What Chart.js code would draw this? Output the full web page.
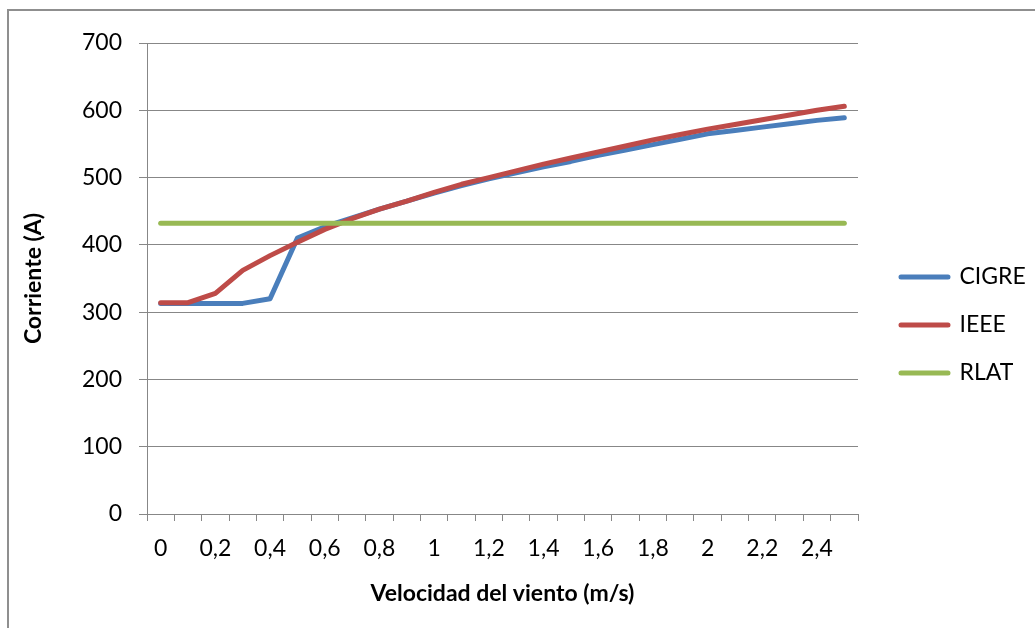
<!DOCTYPE html>
<html>
<head>
<meta charset="utf-8">
<script src="https://cdn.jsdelivr.net/npm/chart.js@4.4.1/dist/chart.umd.min.js"></script>
<style>
  html, body { margin: 0; padding: 0; background: #ffffff; overflow: hidden; }
  #wrap { position: relative; width: 1035px; height: 628px; overflow: hidden; }
  #frame { position: absolute; left: 7px; top: 9px; width: 1200px; height: 800px;
           border-left: 2px solid #8f8f8f; border-top: 2px solid #8f8f8f; pointer-events: none; }
  canvas { position: absolute; left: 0; top: 0; }
</style>
</head>
<body>
<div id="wrap">
  <div id="frame"></div>
  <canvas id="c" width="1035" height="628"></canvas>
</div>
<script>
// ---- data ----
const categories = ['0','0,1','0,2','0,3','0,4','0,5','0,6','0,7','0,8','0,9','1','1,1','1,2','1,3','1,4','1,5','1,6','1,7','1,8','1,9','2','2,1','2,2','2,3','2,4','2,5'];
const seriesNames = ['CIGRE', 'IEEE', 'RLAT'];
const cigre = [313,313,313,313,320,410,427,440,453,465,477,488,498,507,516,524,533,541,549,557,565,570,575,580,585,589];
const ieee  = [314,314,328,362,384,404,423,439,453,465,478,490,500,510,520,529,538,547,556,564,572,579,586,593,600,606];
const rlat  = [432,432,432,432,432,432,432,432,432,432,432,432,432,432,432,432,432,432,432,432,432,432,432,432,432,432];
const yTicks = [0,100,200,300,400,500,600,700];
const xTitle = 'Velocidad del viento (m/s)';
const yTitle = 'Corriente (A)';

// ---- style ----
const FONT = 'Lato';
const GRID = '#878787';
const colors = ['#4A7EBB', '#BE4B48', '#98B954'];
const LEG_FONT = 23, LEG_PAD = 25, LEG_BOX = 47, LEG_ITEM_X = 901;
const PLOT_LEFT = 147, PLOT_RIGHT = 858, PLOT_TOP = 43, PLOT_BOTTOM = 514, PAD_BOTTOM = 21;

const spacerPlugin = {
  id: 'spacer',
  beforeInit(chart) {
    const box = {
      position: 'right', weight: 2000, fullSize: false, options: {},
      isHorizontal() { return false; },
      update(maxW, maxH) {
        const ctx = chart.ctx;
        ctx.save();
        ctx.font = LEG_FONT + 'px ' + FONT;
        const tw = Math.max(...seriesNames.map(n => ctx.measureText(n).width));
        ctx.restore();
        const legendW = LEG_PAD + LEG_BOX + LEG_FONT / 2 + tw + 10;
        this.width = Math.max(0, chart.width - legendW - PLOT_RIGHT);
        this.height = maxH;
      },
      draw() {}
    };
    Chart.layouts.addBox(chart, box);
  },
  afterLayout(chart) {
    const lg = chart.legend;
    if (lg) {
      const shift = LEG_ITEM_X - LEG_PAD - lg.left;
      lg.left += shift;
      lg.right += shift;
    }
  }
};

function mkSet(label, data, color, order) {
  return {
    label, data, order,
    borderColor: color, backgroundColor: color,
    borderWidth: 5, pointRadius: 0, pointHoverRadius: 0, tension: 0,
    borderCapStyle: 'round', borderJoinStyle: 'round', fill: false
  };
}

new Chart(document.getElementById('c'), {
  type: 'line',
  data: {
    labels: categories,
    datasets: [
      mkSet(seriesNames[0], cigre, colors[0], 3),
      mkSet(seriesNames[1], ieee, colors[1], 2),
      mkSet(seriesNames[2], rlat, colors[2], 1)
    ]
  },
  plugins: [spacerPlugin],
  options: {
    responsive: false,
    devicePixelRatio: 1,
    animation: false,
    events: [],
    layout: { padding: { top: PLOT_TOP, left: 0, right: 0, bottom: PAD_BOTTOM } },
    plugins: {
      tooltip: { enabled: false },
      legend: {
        position: 'right',
        align: 'center',
        labels: {
          font: { family: FONT, size: LEG_FONT },
          color: '#000000',
          boxWidth: LEG_BOX,
          boxHeight: 0,
          padding: LEG_PAD,
          sort: (a, b) => a.datasetIndex - b.datasetIndex
        }
      }
    },
    scales: {
      x: {
        type: 'category',
        offset: true,
        grid: { display: true, drawOnChartArea: false, drawTicks: true, tickLength: 7, offset: true, color: GRID, lineWidth: 1 },
        border: { display: true, color: GRID, width: 1 },
        ticks: {
          autoSkip: false, maxRotation: 0, minRotation: 0, padding: 14,
          color: '#000000', font: { family: FONT, size: 23 },
          callback: function (value, index) { return index % 2 === 0 ? this.getLabelForValue(value) : ''; }
        },
        title: { display: true, text: xTitle, color: '#000000', font: { family: FONT, size: 23, weight: 'bold' }, padding: { top: 0, bottom: 0 } },
        afterFit(scale) { scale.height = 628 - PAD_BOTTOM - PLOT_BOTTOM; }
      },
      y: {
        min: 0, max: 700,
        afterBuildTicks(scale) { scale.ticks = yTicks.map(v => ({ value: v })); },
        grid: { display: true, drawOnChartArea: true, drawTicks: true, tickLength: 8, color: GRID, lineWidth: 1 },
        border: { display: true, color: GRID, width: 1 },
        ticks: { padding: 17, color: '#000000', font: { family: FONT, size: 23 } },
        title: { display: true, text: yTitle, color: '#000000', font: { family: FONT, size: 23, weight: 'bold' }, padding: { top: 20, bottom: 0 } },
        afterFit(scale) { scale.width = PLOT_LEFT; }
      }
    }
  }
});
</script>
</body>
</html>
